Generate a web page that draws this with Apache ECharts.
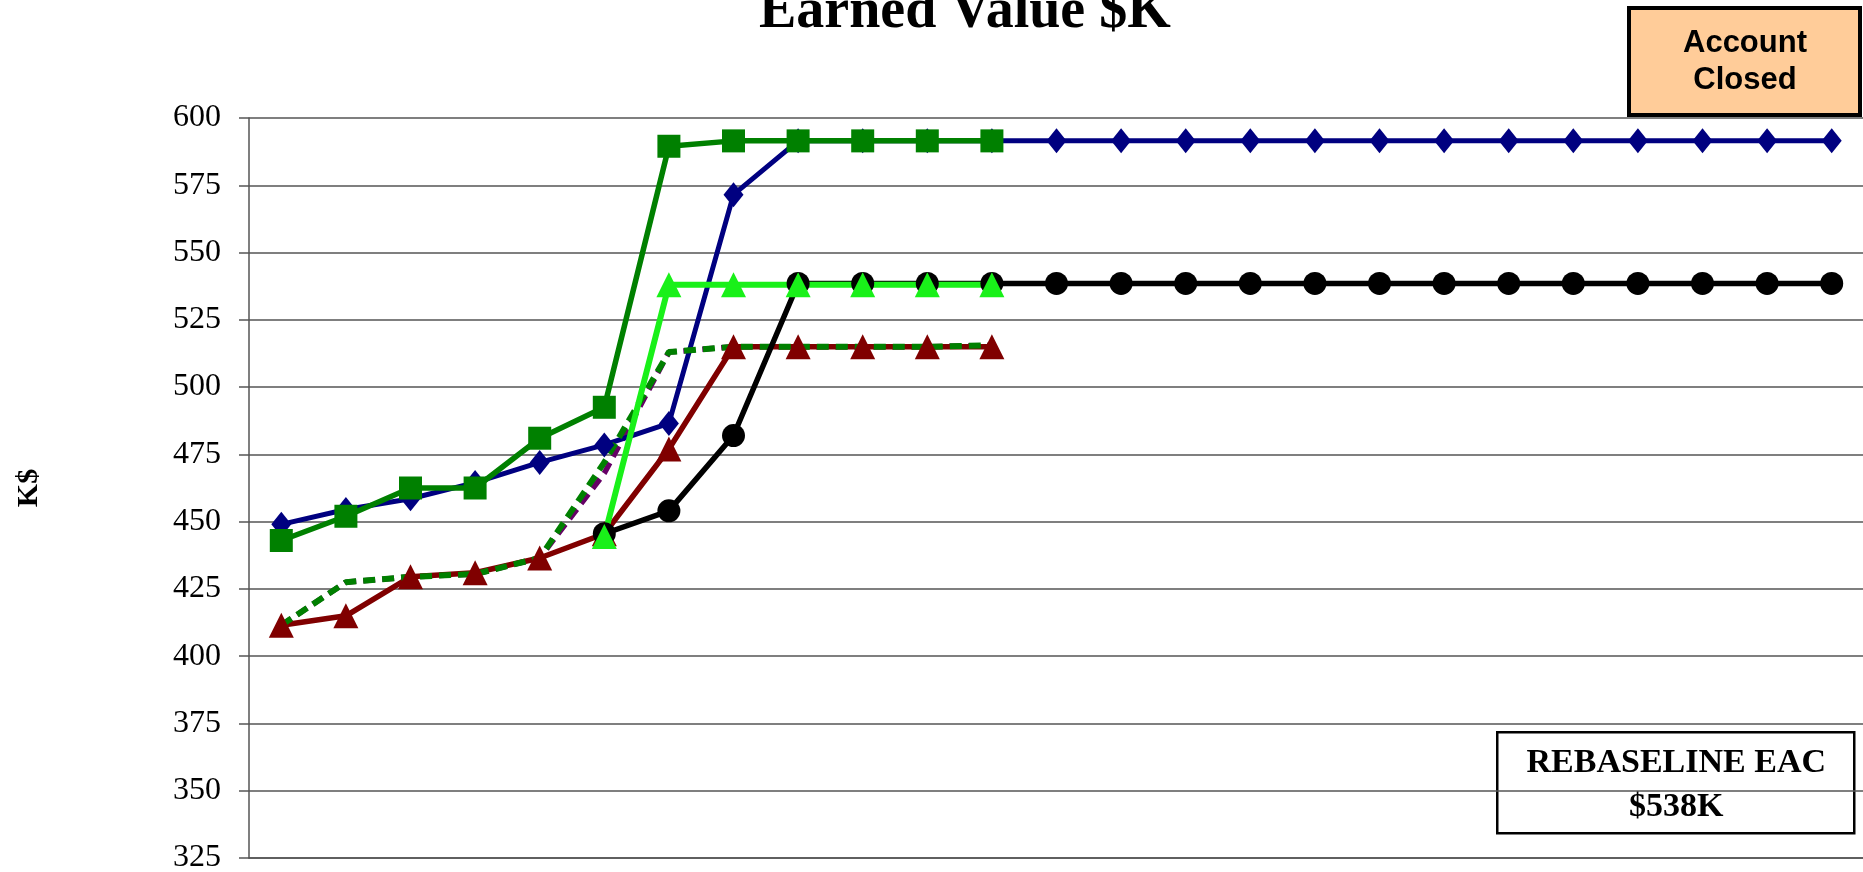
<!DOCTYPE html>
<html>
<head>
<meta charset="utf-8">
<title>Earned Value $K</title>
<script src="https://cdn.jsdelivr.net/npm/echarts@6/dist/echarts.min.js"></script>
<style>
  html, body { margin: 0; padding: 0; background: #fff; }
  #chartEV { width: 1863px; height: 872px; }
</style>
</head>
<body>
<div id="chartEV"></div>
<script>
  /** Data */
  var periods = ['1', '2', '3', '4', '5', '6', '7', '8', '9', '10', '11', '12', '13',
    '14', '15', '16', '17', '18', '19', '20', '21', '22', '23', '24', '25'];
  var yTicks = { min: 325, max: 600, step: 25 };

  var navyDiamond = [449, 454.5, 458.5, 464.5, 472, 478.5, 486.5, 571.5, 591.5, 591.5, 591.5, 591.5, 591.5,
    591.5, 591.5, 591.5, 591.5, 591.5, 591.5, 591.5, 591.5, 591.5, 591.5, 591.5, 591.5];
  var greenSquare = [443, 452, 462.5, 462.5, 481, 492.5, 589.5, 591.5, 591.5, 591.5, 591.5, 591.5];
  var blackCircle = ['-', '-', '-', '-', '-', 445.5, 454, 482, 538.5, 538.5, 538.5, 538.5, 538.5,
    538.5, 538.5, 538.5, 538.5, 538.5, 538.5, 538.5, 538.5, 538.5, 538.5, 538.5, 538.5];
  var limeTriangle = ['-', '-', '-', '-', '-', 444.5, 538, 538, 538, 538, 538, 538];
  var redTriangle = [411.5, 415, 429.5, 431, 436.5, 445.5, 477, 515, 515, 515, 515, 515];
  var greenDashed = [411.5, 427.5, 429.5, 430.5, 436.5, 472, 513, 515, 515, 515, 515, 515.5];
  var purpleDashed = [411.5, 427.5, 429.5, 430.5, 436.5, 468, 513, 515, 515, 515, 515, 515.5];

  /** Chart */
  var chart = echarts.init(document.getElementById('chartEV'));

  function line(name, data, color, symbol, size, dashed, width) {
    return {
      name: name,
      type: 'line',
      data: data,
      symbol: symbol,
      symbolSize: size,
      showSymbol: symbol !== 'none',
      connectNulls: false,
      animation: false,
      lineStyle: { color: color, width: width, type: dashed ? [12, 7] : 'solid' },
      itemStyle: { color: color },
      emphasis: { disabled: true }
    };
  }

  var option = {
    backgroundColor: '#fff',
    title: {
      text: 'Earned Value $K',
      left: 754,
      top: -20,
      textStyle: {
        fontFamily: 'Liberation Serif',
        fontWeight: 'bold',
        fontSize: 56,
        color: '#000'
      }
    },
    grid: {
      left: 249,
      right: -1,
      top: 118,
      bottom: 14,
      containLabel: false,
      outerBoundsMode: 'none'
    },
    xAxis: {
      type: 'category',
      data: periods,
      boundaryGap: true,
      axisLine: { show: true, lineStyle: { color: '#555', width: 1.5 } },
      axisTick: { show: false },
      axisLabel: { show: false },
      splitLine: { show: false }
    },
    yAxis: {
      type: 'value',
      min: yTicks.min,
      max: yTicks.max,
      interval: yTicks.step,
      name: 'K$',
      nameLocation: 'middle',
      nameRotate: 90,
      nameGap: 205,
      nameTextStyle: {
        fontFamily: 'Liberation Serif',
        fontWeight: 'bold',
        fontSize: 30,
        color: '#000'
      },
      axisLine: { show: true, lineStyle: { color: '#555', width: 1.5 } },
      axisTick: { show: true, inside: false, length: 10, lineStyle: { color: '#555', width: 1.5 } },
      axisLabel: {
        margin: 28,
        fontFamily: 'Liberation Serif',
        fontSize: 32,
        color: '#000'
      },
      splitLine: { show: true, lineStyle: { color: '#555', width: 1.5 } }
    },
    series: [
      line('Purple', purpleDashed, '#660066', 'none', 0, true, 5.5),
      line('Red', redTriangle, '#800000', 'triangle', 25, false, 5.5),
      line('Navy', navyDiamond, '#000080', 'diamond', [20, 25], false, 5),
      line('Green dashed', greenDashed, '#008000', 'none', 0, true, 6),
      line('Green', greenSquare, '#008000', 'rect', 23, false, 5.5),
      line('Black', blackCircle, '#000000', 'circle', 23, false, 5.5),
      line('Lime', limeTriangle, '#19F019', 'triangle', 25, false, 6)
    ],
    graphic: [
      {
        type: 'group',
        left: 1627,
        top: 6,
        children: [
          {
            type: 'rect',
            shape: { x: 0, y: 0, width: 231, height: 107 },
            style: { fill: '#FFCC99', stroke: '#000', lineWidth: 4 }
          },
          {
            type: 'text',
            style: {
              x: 116, y: 54,
              text: 'Account\nClosed',
              align: 'center',
              verticalAlign: 'middle',
              fontFamily: 'Liberation Sans',
              fontWeight: 'bold',
              fontSize: 31,
              lineHeight: 37,
              fill: '#000'
            }
          }
        ]
      },
      {
        type: 'group',
        left: 1496,
        top: 731,
        children: [
          {
            type: 'rect',
            shape: { x: 0, y: 0, width: 357, height: 101 },
            style: { fill: '#fff', stroke: '#000', lineWidth: 2.5 }
          },
          {
            type: 'text',
            style: {
              x: 179, y: 53,
              text: 'REBASELINE EAC\n$538K',
              align: 'center',
              verticalAlign: 'middle',
              fontFamily: 'Liberation Serif',
              fontWeight: 'bold',
              fontSize: 34,
              lineHeight: 44,
              fill: '#000'
            }
          }
        ]
      }
    ]
  };

  chart.setOption(option);
</script>
</body>
</html>
